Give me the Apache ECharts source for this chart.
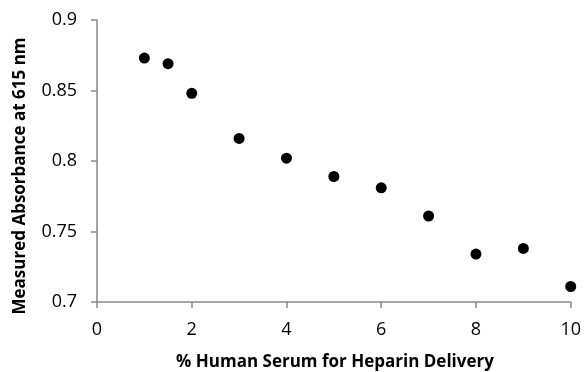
<!DOCTYPE html>
<html>
<head>
<meta charset="utf-8">
<script src="https://cdn.jsdelivr.net/npm/echarts@6/dist/echarts.min.js"></script>
<style>html,body{margin:0;padding:0;background:#fff;}#c{width:584px;height:372px;}</style>
</head>
<body>
<div id="c"></div>
<script>
const serumPercent = [1, 1.5, 2, 3, 4, 5, 6, 7, 8, 9, 10];
const absorbance = [0.873, 0.869, 0.848, 0.816, 0.802, 0.789, 0.781, 0.761, 0.734, 0.738, 0.711];
const xTitle = '% Human Serum for Heparin Delivery';
const yTitle = 'Measured Absorbance at 615 nm';

const chart = echarts.init(document.getElementById('c'), null, {renderer: 'canvas'});
const axisColor = '#898989';
const font = '"Open Sans", sans-serif';
const titleStyle = {fontFamily: font, fontWeight: 'bold', fontSize: 17, fill: '#000'};
chart.setOption({
  animation: false,
  backgroundColor: '#fff',
  grid: {left: 97, right: 12, top: 20, bottom: 70, containLabel: false},
  graphic: [
    {type: 'text', x: 335, y: 362, style: Object.assign({text: xTitle, align: 'center', verticalAlign: 'middle'}, titleStyle)},
    {type: 'text', x: 20, y: 176, rotation: Math.PI / 2, style: Object.assign({text: yTitle, align: 'center', verticalAlign: 'middle'}, titleStyle)}
  ],
  xAxis: {
    type: 'value', min: 0, max: 10, interval: 2,
    axisLine: {lineStyle: {color: axisColor, width: 1.5}},
    axisTick: {show: true, inside: false, length: 6, lineStyle: {color: axisColor, width: 1.5}},
    axisLabel: {fontFamily: font, fontSize: 18, color: '#000', margin: 19},
    splitLine: {show: false}
  },
  yAxis: {
    type: 'value', min: 0.7, max: 0.9, interval: 0.05,
    axisLine: {show: true, lineStyle: {color: axisColor, width: 1.5}},
    axisTick: {show: true, inside: false, length: 6, lineStyle: {color: axisColor, width: 1.5}},
    axisLabel: {fontFamily: font, fontSize: 18, color: '#000', margin: 20,
      formatter: v => String(parseFloat(v.toFixed(2)))},
    splitLine: {show: false}
  },
  series: [{
    type: 'scatter',
    data: serumPercent.map((x, i) => [x, absorbance[i]]),
    symbol: 'circle', symbolSize: 11,
    itemStyle: {color: '#000', opacity: 1}
  }]
});
</script>
</body>
</html>
